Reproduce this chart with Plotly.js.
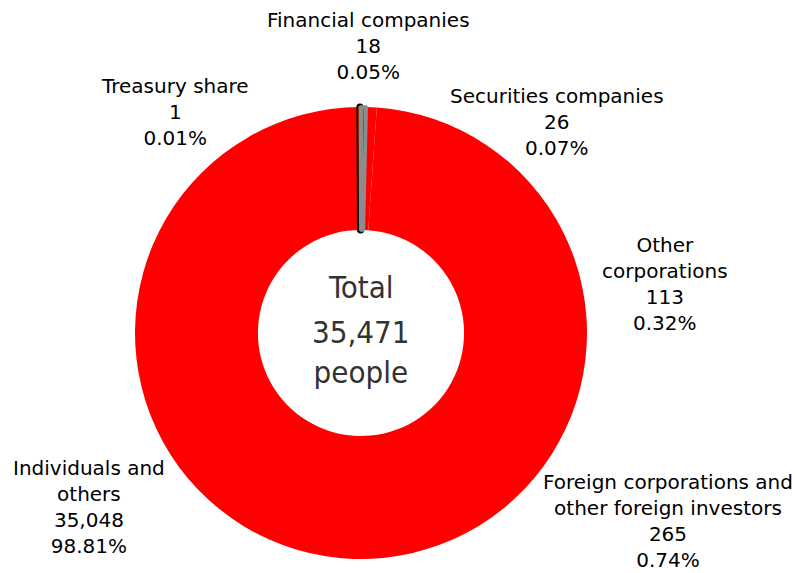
<!DOCTYPE html>
<html>
<head>
<meta charset="utf-8">
<script src="https://cdn.plot.ly/plotly-3.0.1.min.js"></script>
<style>html,body{margin:0;padding:0;background:#fff;}#chart{width:797px;height:573px;}</style>
</head>
<body>
<div id="chart"></div>
<script>
const categories = ["Treasury share", "Financial companies", "Securities companies", "Other corporations", "Foreign corporations and other foreign investors", "Individuals and others"];
const labelLines = [["Treasury share"], ["Financial companies"], ["Securities companies"], ["Other", "corporations"], ["Foreign corporations and", "other foreign investors"], ["Individuals and", "others"]];
const holders = [1, 18, 26, 113, 265, 35048];
const percents = ["0.01%", "0.05%", "0.07%", "0.32%", "0.74%", "98.81%"];
const totalLabel = "Total";
const totalValue = "35,471";
const totalUnit = "people";

const NONE = "rgba(0,0,0,0)";
const colors = ["#000000", "#ff6a00", "#8c8c8c", "#8c8c8c", "#ff0000", "#ff0000"];
const darkEdgeColors = ["#000000", "#ff6a00", NONE, NONE, NONE, NONE];
const darkEdgeWidths = [7, 3, 0, 0, 0, 0];
const grayEdgeColors = [NONE, NONE, NONE, "#8c8c8c", NONE, NONE];
const grayEdgeWidths = [0, 0, 0, 3.5, 0, 0];

const W = 797, H = 573;
const cx = 361, cy = 333, R = 226;
const labelFont = "'DejaVu Sans', sans-serif";
const centerFont = "'DejaVu Sans Condensed', 'DejaVu Sans', sans-serif";

// label anchor centres (pixels)
const labelPos = [[175, 112], [368, 46], [557, 122], [665, 284], [668, 521], [89, 507]];

const annotations = categories.map((c, i) => ({
  xref: 'paper', yref: 'paper',
  x: labelPos[i][0] / W, y: 1 - labelPos[i][1] / H,
  xanchor: 'center', yanchor: 'middle',
  showarrow: false, align: 'center',
  text: labelLines[i].concat([holders[i].toLocaleString('en-US'), percents[i]]).join('<br>'),
  font: {family: labelFont, size: 20, color: '#000'}
}));
annotations.push({
  xref: 'paper', yref: 'paper', x: cx / W, y: 1 - 287 / H,
  xanchor: 'center', yanchor: 'middle', showarrow: false,
  text: totalLabel, font: {family: centerFont, size: 31, color: '#333333'}
});
annotations.push({
  xref: 'paper', yref: 'paper', x: cx / W, y: 1 - 352 / H,
  xanchor: 'center', yanchor: 'middle', showarrow: false,
  text: totalValue + '<br>' + totalUnit, font: {family: centerFont, size: 31, color: '#333333'}
});

const domain = {x: [(cx - R) / W, (cx + R) / W], y: [1 - (cy + R) / H, 1 - (cy - R) / H]};
const rot = -0.28;

function pieLayer(fill, lineColor, lineWidth) {
  return {
    type: 'pie',
    labels: categories,
    values: holders,
    sort: false,
    direction: 'clockwise',
    rotation: rot,
    hole: 0.456,
    textinfo: 'none',
    showlegend: false,
    marker: {colors: fill, line: {color: lineColor, width: lineWidth}},
    domain: domain
  };
}

const base = pieLayer(colors, NONE, 0);
const darkEdges = pieLayer(categories.map(() => NONE), darkEdgeColors, darkEdgeWidths);
const grayEdges = pieLayer(categories.map(() => NONE), grayEdgeColors, grayEdgeWidths);

Plotly.newPlot('chart', [base, darkEdges, grayEdges], {
  width: W, height: H,
  margin: {l: 0, r: 0, t: 0, b: 0},
  paper_bgcolor: '#fff', plot_bgcolor: '#fff',
  showlegend: false,
  annotations: annotations
}, {displayModeBar: false, staticPlot: true});
</script>
</body>
</html>
